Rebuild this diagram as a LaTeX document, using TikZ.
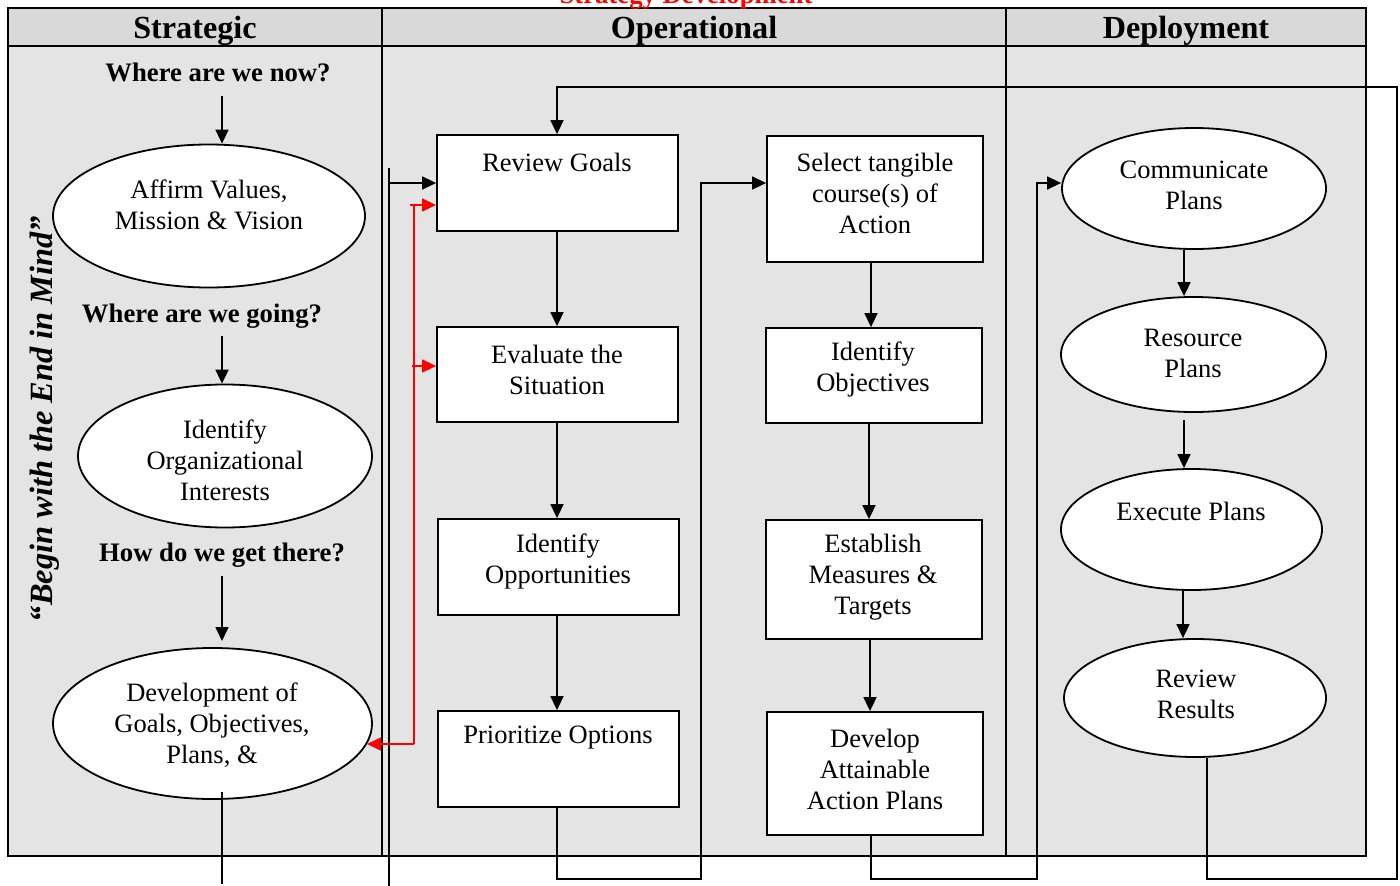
\documentclass[tikz,border=0pt]{standalone}
\usepackage{fontspec}
\setmainfont{Liberation Serif}
\usetikzlibrary{shapes.geometric,arrows.meta}
\definecolor{hdr}{HTML}{D9D9D9}
\definecolor{bdy}{HTML}{E4E4E4}
\begin{document}
\begin{tikzpicture}[x=1pt,y=-1pt,
  box/.style={draw, fill=white, line width=1.8pt, inner sep=0pt},
  ell/.style={ellipse, draw, fill=white, line width=1.8pt, inner sep=0pt},
  txt/.style={align=center, font=\fontsize{26.5}{31}\selectfont, inner sep=0pt},
  q/.style={font=\fontsize{26.7}{31}\selectfont\bfseries, inner sep=0pt, anchor=base},
  hd/.style={font=\fontsize{32.2}{36}\selectfont\bfseries, inner sep=0pt, anchor=base},
  conn/.style={line width=1.6pt},
  arr/.style={line width=1.6pt, -{Triangle[length=14pt,width=13pt]}},
  rarr/.style={red, line width=1.6pt, -{Triangle[length=14pt,width=13pt]}},
  frm/.style={line width=2.4pt}]
\useasboundingbox (0,0) rectangle (1400,886);
% frame
\fill[hdr] (8,8) rectangle (1366,46);
\fill[bdy] (8,46) rectangle (1366,856);
\draw[frm] (8,8) rectangle (1366,856);
\draw[frm] (8,46) -- (1366,46);
\draw[frm] (382,8) -- (382,856);
\draw[frm] (1006,8) -- (1006,856);
% headers
\node[hd] (h1) at (195,38) {Strategic};
\node[hd] (h2) at (694,38) {Operational};
\node[hd] (h3) at (1186,38) {Deployment};
\node[font=\fontsize{26.7}{30}\selectfont\bfseries, text=red, anchor=base, inner sep=0pt] (title) at (686,3) {Strategy Development};
% motto
\node[rotate=90, font=\fontsize{32.4}{36}\selectfont\bfseries\itshape, inner sep=0pt] (motto) at (45,419) {“Begin with the End in Mind”};
% strategic column
\node[q] (q1) at (218,81) {Where are we now?};
\node[ell, minimum width=312, minimum height=143] (e1) at (209,216) {};
\node[txt] (t1) at (209,205) {Affirm Values,\\Mission \& Vision};
\node[q] (q2) at (202,322) {Where are we going?};
\node[ell, minimum width=294, minimum height=143] (e2) at (225,456) {};
\node[txt] (t2) at (225,460) {Identify\\Organizational\\Interests};
\node[q] (q3) at (222,561) {How do we get there?};
\node[ell, minimum width=319, minimum height=151] (e3) at (212.5,723.5) {};
\node[txt] (t3) at (212,725) {Development of\\Goals, Objectives,\\Plans, \&};
\coordinate (a1s) at (222,96);
\coordinate (a2s) at (222,336);
\coordinate (a3s) at (222,576);
\coordinate (a3e) at (222,641);
\draw[arr] (a1s) -- (a1s |- e1.north);
\draw[arr] (a2s) -- (a2s |- e2.north);
\draw[arr] (a3s) -- (a3e);
\coordinate (d3a) at (222,792);
\coordinate (d3b) at (222,884);
\draw[conn] (d3a) -- (d3b);
% operational boxes
\node[box, minimum width=241, minimum height=96] (b1) at (557.5,183) {};
\node[txt] (tb1) at (557,162) {Review Goals};
\node[box, minimum width=241, minimum height=95] (b2) at (557.5,374.5) {};
\node[txt] (tb2) at (557,369.5) {Evaluate the\\Situation};
\node[box, minimum width=241, minimum height=96] (b3) at (558.5,567) {};
\node[txt] (tb3) at (558,561.5) {Identify\\Opportunities};
\node[box, minimum width=241, minimum height=96] (b4) at (558.5,759) {};
\node[txt] (tb4) at (558,738) {Prioritize Options};
\node[box, minimum width=216, minimum height=126] (c1) at (875,199) {};
\node[txt] (tc1) at (875,193) {Select tangible\\course(s) of\\Action};
\node[box, minimum width=216, minimum height=95] (c2) at (874,375.5) {};
\node[txt] (tc2) at (873,369.5) {Identify\\Objectives};
\node[box, minimum width=216, minimum height=119] (c3) at (874,579.5) {};
\node[txt] (tc3) at (873,577) {Establish\\Measures \&\\Targets};
\node[box, minimum width=216, minimum height=123] (c4) at (875,773.5) {};
\node[txt] (tc4) at (875,769) {Develop\\Attainable\\Action Plans};
\coordinate (x1) at (557,0);
\draw[arr] (x1 |- b1.south) -- (x1 |- b2.north);
\draw[arr] (x1 |- b2.south) -- (x1 |- b3.north);
\draw[arr] (x1 |- b3.south) -- (x1 |- b4.north);
\coordinate (x2) at (871,0);
\coordinate (x3) at (869,0);
\coordinate (x4) at (870,0);
\draw[arr] (x2 |- c1.south) -- (x2 |- c2.north);
\draw[arr] (x3 |- c2.south) -- (x3 |- c3.north);
\draw[arr] (x4 |- c3.south) -- (x4 |- c4.north);
% deployment
\node[ell, minimum width=264, minimum height=121] (r1) at (1194,188.5) {};
\node[txt] (tr1) at (1194,185.5) {Communicate\\Plans};
\node[ell, minimum width=265, minimum height=115] (r2) at (1193.5,354.5) {};
\node[txt] (tr2) at (1193,353.5) {Resource\\Plans};
\node[ell, minimum width=261, minimum height=121] (r3) at (1191.5,529.5) {};
\node[txt] (tr3) at (1191,511) {Execute Plans};
\node[ell, minimum width=262, minimum height=118] (r4) at (1195,698) {};
\node[txt] (tr4) at (1196,694.5) {Review\\Results};
\coordinate (y1) at (1184,0);
\coordinate (s2) at (1184,420);
\coordinate (y3) at (1183,0);
\draw[arr] (y1 |- r1.south) -- (y1 |- r2.north);
\draw[arr] (s2) -- (s2 |- r3.north);
\draw[arr] (y3 |- r3.south) -- (y3 |- r4.north);
% input line to Review Goals
\coordinate (l1b) at (389,886);
\coordinate (l1t) at (389,168);
\draw[conn] (l1b) -- (l1t);
\draw[arr] (l1t |- b1.west) -- (b1.west);
% Prioritize -> Select
\coordinate (j1) at (701,879);
\coordinate (k1) at (701,183);
\draw[arr] (x1 |- b4.south) -- (x1 |- j1) -- (j1) -- (k1) -- (k1 -| c1.west);
% Develop -> Communicate
\coordinate (j2) at (871,879);
\coordinate (j3) at (1037,879);
\coordinate (k2) at (1037,183);
\draw[arr] (j2 |- c4.south) -- (j2) -- (j3) -- (k2) -- (k2 -| r1.west);
% Review Results -> Review Goals
\coordinate (j4) at (1207,879);
\coordinate (j5) at (1397,879);
\coordinate (j6) at (1397,87);
\coordinate (j7) at (557,87);
\draw[arr] (j4 |- r4.south) -- (j4) -- (j5) -- (j6) -- (j7) -- (j7 |- b1.north);
% red feedback
\coordinate (rr1) at (414,744);
\coordinate (rr0) at (367,744);
\coordinate (rr2) at (410,205);
\coordinate (rr3) at (412,366);
\draw[red, line width=1.6pt] (414,744) -- (414,205);
\draw[rarr] (rr1) -- (rr0);
\draw[rarr] (rr2) -- (rr2 -| b1.west);
\draw[rarr] (rr3) -- (rr3 -| b2.west);
\end{tikzpicture}
\end{document}
